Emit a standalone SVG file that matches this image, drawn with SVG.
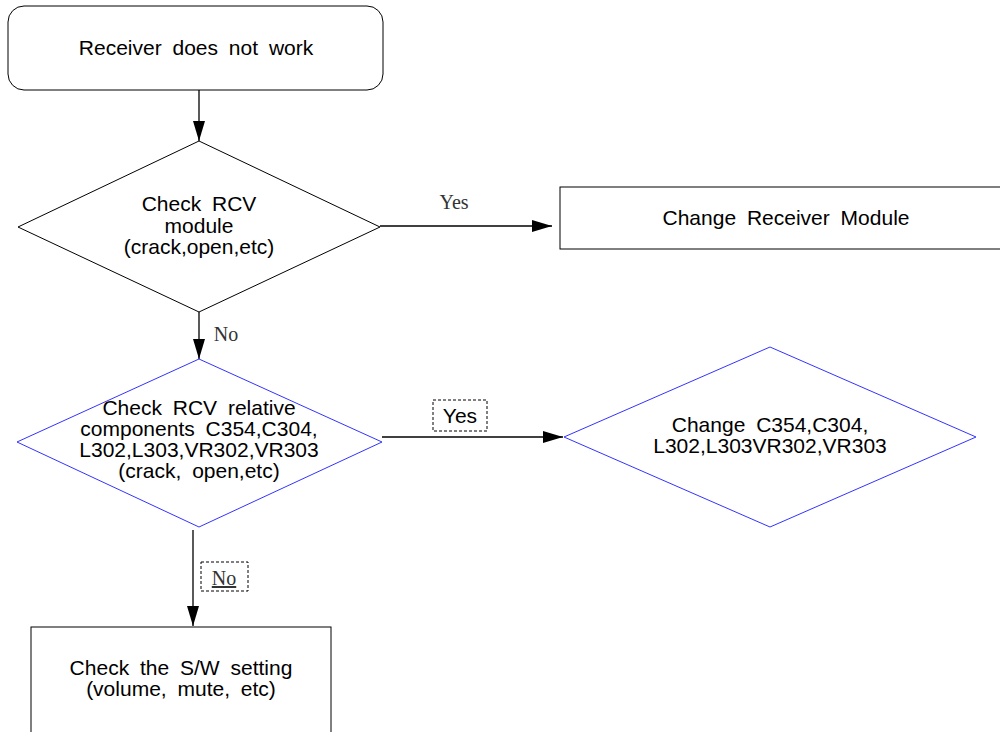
<svg xmlns="http://www.w3.org/2000/svg" width="1000" height="732" viewBox="0 0 1000 732">
<style>
.s{font-family:"Liberation Sans",Arial,sans-serif;font-size:21px;fill:#000;text-anchor:middle;word-spacing:5px}
.f{font-family:"Liberation Serif","Times New Roman",serif;font-size:20px;fill:#333;text-anchor:middle}
.k{fill:#fff;stroke:#000;stroke-width:1}
.b{fill:#fff;stroke:#3333ff;stroke-width:1}
.c{stroke:#000;stroke-width:1.3;fill:none}
.d{fill:#fff;stroke:#000;stroke-width:1;stroke-dasharray:3 2}
</style>
<defs>
<marker id="a" markerWidth="22" markerHeight="12" refX="20" refY="6" orient="auto" markerUnits="userSpaceOnUse">
<path d="M0,0 L20,6 L0,12 z" fill="#000"/>
</marker>
</defs>
<rect width="1000" height="732" fill="#fff"/>
<g id="connectors">
<line class="c" x1="199" y1="90" x2="199" y2="141" marker-end="url(#a)"/>
<line class="c" x1="380" y1="226" x2="552" y2="226" marker-end="url(#a)"/>
<line class="c" x1="199" y1="312" x2="199" y2="359" marker-end="url(#a)"/>
<line class="c" x1="382" y1="437" x2="563" y2="437" marker-end="url(#a)"/>
<line class="c" x1="193" y1="530" x2="193" y2="626" marker-end="url(#a)"/>
<text class="f" x="454" y="209">Yes</text>
<text class="f" x="226" y="341">No</text>
<rect class="d" x="433" y="400" width="54" height="31"/>
<text class="s" x="460" y="423">Yes</text>
<rect class="d" x="201" y="562" width="47" height="29"/>
<text class="f" x="224" y="585" text-decoration="underline">No</text>
</g>
<g id="start">
<rect class="k" x="8" y="6" width="375" height="84" rx="16"/>
<text class="s" x="196" y="55">Receiver does not work</text>
</g>
<g id="check-module">
<polygon class="k" points="199,141 380,227 199,312 18,227"/>
<text class="s" x="199" y="211">Check RCV</text>
<text class="s" x="199" y="233">module</text>
<text class="s" x="199" y="254">(crack,open,etc)</text>
</g>
<g id="change-module">
<rect class="k" x="560" y="187" width="450" height="62"/>
<text class="s" x="786" y="225">Change Receiver Module</text>
</g>
<g id="check-components">
<polygon class="b" points="199,359 382,442 199,527 17,442"/>
<text class="s" x="199" y="415">Check RCV relative</text>
<text class="s" x="199" y="436">components C354,C304,</text>
<text class="s" x="199" y="457">L302,L303,VR302,VR303</text>
<text class="s" x="199" y="478">(crack, open,etc)</text>
</g>
<g id="change-components">
<polygon class="b" points="770,347 976,437 770,527 564,437"/>
<text class="s" x="770" y="432">Change C354,C304,</text>
<text class="s" x="770" y="453">L302,L303VR302,VR303</text>
</g>
<g id="check-sw">
<rect class="k" x="31" y="627" width="300" height="120"/>
<text class="s" x="181" y="675">Check the S/W setting</text>
<text class="s" x="181" y="696">(volume, mute, etc)</text>
</g>
</svg>
